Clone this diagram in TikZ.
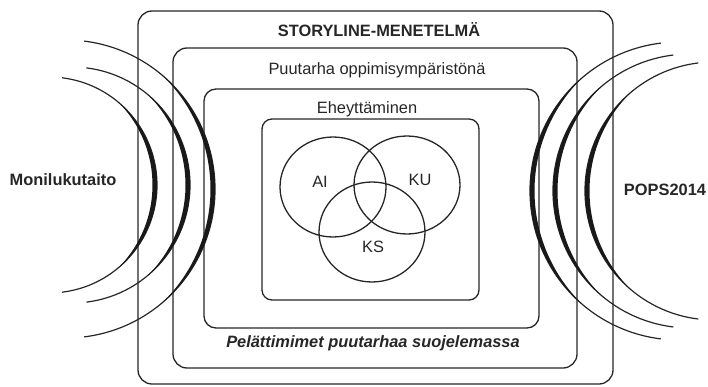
\documentclass[tikz,border=0pt]{standalone}
\usepackage{fontspec}
\setmainfont{Liberation Sans}
\usetikzlibrary{positioning}

\begin{document}
\begin{tikzpicture}[
  x=1pt, y=1pt,
  frame/.style={draw=black!85, line width=1.3pt, rounded corners=14pt},
  venn/.style={draw=black!85, line width=1.3pt},
  label/.style={font=\fontsize{16.4}{19}\selectfont, text=black!85, inner sep=0pt},
  title/.style={label, font=\fontsize{16.4}{19}\selectfont\bfseries},
  wave/.style={draw=black!85, line width=1.2pt},
  bulge/.style={fill=black!90}
]
\useasboundingbox (0,0) rectangle (708,386);
\def\wt{4.5}  % thickness of the wave at its middle
\def\wa{50}   % half angle of the thick part

% --- nested frames ---
\draw[frame] (138,2) rectangle (613,375);
\draw[frame] (173,18) rectangle (577,338);
\draw[frame, rounded corners=12pt] (204,58) rectangle (539,297);
\draw[frame, rounded corners=10pt] (262,86) rectangle (479,267);

\node[title] (method) at (379,356) {STORYLINE-MENETELMÄ};
\node[label] (garden) at (377,316) {Puutarha oppimisympäristönä};
\node[label] (integr) at (367,277) {Eheyttäminen};
\node[title, font=\fontsize{16.4}{19}\selectfont\bfseries\itshape]
  (scare) at (373,43) {Pelättimimet puutarhaa suojelemassa};

% --- venn ---
\draw[venn] (333,199) ellipse [x radius=53, y radius=50];
\draw[venn] (407,201) ellipse [x radius=53, y radius=49];
\draw[venn] (372,154) ellipse [x radius=53, y radius=50];
\node[label] (ai) at (320,204) {AI};
\node[label] (ku) at (420,206) {KU};
\node[label] (ks) at (373,139) {KS};

% --- side labels ---
\node[title] (multi) at (63,206) {Monilukutaito};
\node[title] (pops) at (665,196) {POPS2014};

% --- waves, left ---
\foreach \cx/\cy/\r in {66/197/149, 72/201/118, 49/201/108} {
  \pgfmathsetmacro\dd{(\wt*\wt-2*\r*\wt)/(2*(\r*cos(\wa)-\r+\wt))}
  \pgfmathsetmacro\rr{\r-\wt+\dd}
  \pgfmathsetmacro\ang{asin(\r*sin(\wa)/\rr)}
  \draw[wave] ([shift={(-83:\r)}]\cx,\cy) arc[start angle=-83, end angle=83, radius=\r];
  \fill[bulge] ([shift={(-\wa:\r)}]\cx,\cy) arc[start angle=-\wa, end angle=\wa, radius=\r]
    -- ([shift={(\ang:\rr)}]\cx-\dd,\cy) arc[start angle=\ang, end angle=-\ang, radius=\rr] -- cycle;
}

% --- waves, right ---
\foreach \cx/\cy/\r in {679/195/149, 690/195/137, 714/195/129} {
  \pgfmathsetmacro\dd{(\wt*\wt-2*\r*\wt)/(2*(\r*cos(\wa)-\r+\wt))}
  \pgfmathsetmacro\rr{\r-\wt+\dd}
  \pgfmathsetmacro\ang{asin(\r*sin(\wa)/\rr)}
  \draw[wave] ([shift={(97:\r)}]\cx,\cy) arc[start angle=97, end angle=263, radius=\r];
  \fill[bulge] ([shift={(180-\wa:\r)}]\cx,\cy) arc[start angle=180-\wa, end angle=180+\wa, radius=\r]
    -- ([shift={(180+\ang:\rr)}]\cx+\dd,\cy) arc[start angle=180+\ang, end angle=180-\ang, radius=\rr] -- cycle;
}
\end{tikzpicture}
\end{document}
